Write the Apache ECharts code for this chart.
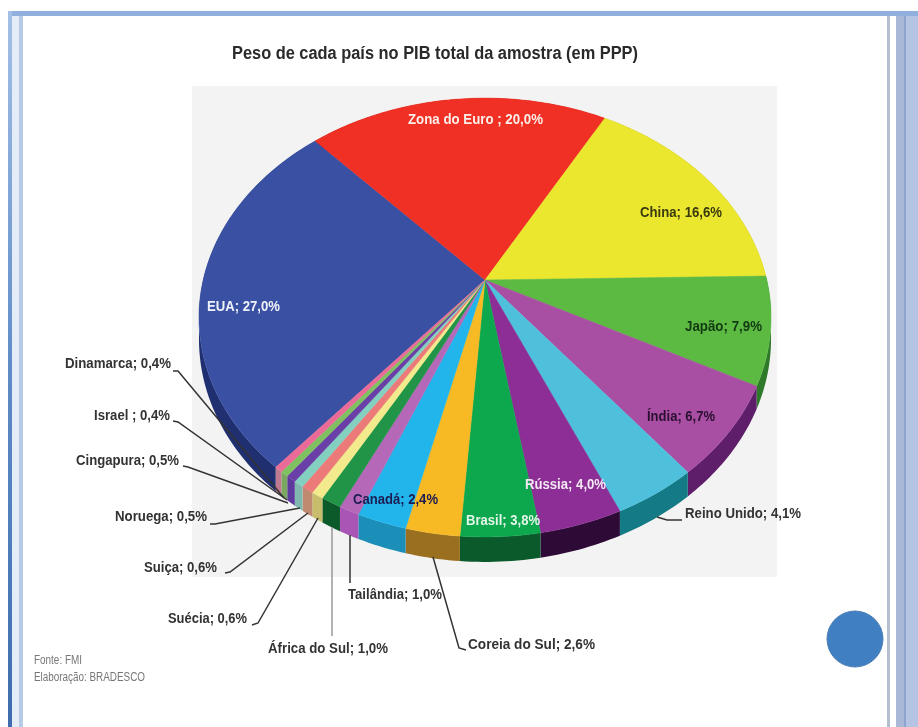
<!DOCTYPE html>
<html>
<head>
<meta charset="utf-8">
<style>html,body{margin:0;padding:0;background:#fff}#chart{width:918px;height:727px}</style>
<script src="https://cdn.jsdelivr.net/npm/echarts@6/dist/echarts.min.js"></script>
</head>
<body>
<div id="chart"></div>
<script>
// Share of each country in the sample's total GDP (PPP), clockwise from the USA slice.
const categories = ['EUA', 'Zona do Euro ', 'China', 'Japão', 'Índia', 'Reino Unido', 'Rússia', 'Brasil',
  'Coreia do Sul', 'Canadá', 'Tailândia', 'África do Sul', 'Suécia', 'Suiça', 'Noruega', 'Cingapura', 'Israel ', 'Dinamarca'];
const shares = [27.0, 20.0, 16.6, 7.9, 6.7, 4.1, 4.0, 3.8, 2.6, 2.4, 1.0, 1.0, 0.6, 0.6, 0.5, 0.5, 0.4, 0.4];

const topColors = ['#3a51a3', '#f03024', '#ebe62e', '#5cba42', '#a84ea3', '#4fc0dc', '#8c2e95', '#0da84e',
  '#f7b924', '#21b5ec', '#b568b8', '#219447', '#f2ea8c', '#ec7a78', '#84d0c0', '#6a3fa8', '#7fc060', '#ea6a98'];
const sideColors = ['#1f2f70', '#a0201a', '#a09c20', '#2f7a2a', '#5e1e6a', '#147a85', '#2e0b36', '#0a5a2c',
  '#9a7020', '#1c8fb8', '#a855b5', '#0c5a2a', '#c8bd6c', '#bf8a70', '#80b8b0', '#5e3a9e', '#7aa860', '#c07a90'];

// Label boxes: left edge, drawn width, vertical centre, colour.
const labelBoxes = [
  [207, 73, 307, '#f0f2fa'], [408, 135, 120, '#fbeee8'], [640, 82, 213, '#3a3a10'], [685, 77, 327, '#123a12'],
  [647, 68, 417, '#2a1030'], [685, 116, 514, '#333'], [525, 81, 485, '#f4e8f4'], [466, 74, 521, '#e4f6ea'],
  [468, 127, 645, '#333'], [353, 85, 500, '#1c1c50'], [348, 94, 595, '#333'], [268, 120, 649, '#333'],
  [168, 79, 619, '#333'], [144, 73, 568, '#333'], [115, 92, 517, '#333'], [76, 103, 461, '#333'],
  [94, 76, 416, '#333'], [65, 106, 364, '#333']
];

// Leader lines from the outer labels to their slices, keyed by category.
const leaders = {
  'Reino Unido': [[657, 517], [667, 520], [682, 520]],
  'Coreia do Sul': [[433, 557], [459, 648], [466, 650]],
  'Tailândia': [[350, 535], [350, 583]],
  'África do Sul': [[332, 527], [332, 636]],
  'Suécia': [[318, 518], [258, 623], [252, 625]],
  'Suiça': [[308, 513], [230, 572], [225, 573]],
  'Noruega': [[300, 508], [215, 524], [210, 524]],
  'Cingapura': [[288, 503], [188, 467], [183, 466]],
  'Israel ': [[287, 500], [178, 422], [173, 421]],
  'Dinamarca': [[284, 498], [178, 371], [173, 371]]
};

// Perspective projection of the pie's disc: apex, radii and foreshortening.
const apexX = 485, apexY = 280, radiusX = 281.8, radiusY = 213, tilt = 0.171;
const startAngle = -139.8;
const total = shares.reduce((a, b) => a + b, 0);

function rimPoint(deg, extraDepth) {
  const a = deg * Math.PI / 180;
  const w = 1 + tilt * Math.cos(a);
  const depth = extraDepth ? 21 - 4 * Math.cos(a) : 0;
  return [apexX + radiusX * Math.sin(a) / w, apexY - radiusY * Math.cos(a) / w + depth];
}

function sliceSpan(index) {
  const before = shares.slice(0, index).reduce((a, b) => a + b, 0);
  return [startAngle + before / total * 360, startAngle + (before + shares[index]) / total * 360];
}

function rimArc(index, extraDepth) {
  const [from, to] = sliceSpan(index);
  const pts = [];
  const steps = Math.max(4, Math.ceil(to - from));
  for (let i = 0; i <= steps; i++) pts.push(rimPoint(from + (to - from) * i / steps, extraDepth));
  return pts;
}

const measurer = document.createElement('canvas').getContext('2d');
function fittedScale(text, font, width) {
  measurer.font = font;
  return width / measurer.measureText(text).width;
}

const labelFont = 'bold 14px "Liberation Sans"';
const titleText = 'Peso de cada país no PIB total da amostra (em PPP)';
const titleFont = 'bold 18px "Liberation Sans"';
const sourceFont = '12px "Liberation Sans"';

function formatLabel(i) {
  return categories[i] + '; ' + shares[i].toFixed(1).replace('.', ',') + '%';
}

const chart = echarts.init(document.getElementById('chart'), null, { renderer: 'canvas' });

function plate(x, y, width, height, fill) {
  return { type: 'rect', z: -10, silent: true, shape: { x, y, width, height }, style: { fill } };
}

function sourceLine(text, y, width) {
  return { type: 'text', z: -9, silent: true, x: 34, y, scaleX: fittedScale(text, sourceFont, width),
    style: { text, font: sourceFont, fill: '#777', textVerticalAlign: 'middle' } };
}

chart.setOption({
  animation: false,
  backgroundColor: '#fff',
  graphic: [
    plate(8, 11, 910, 5, '#8fb0dc'),
    plate(8, 11, 4, 716, {
      type: 'linear', x: 0, y: 0, x2: 0, y2: 1,
      colorStops: [{ offset: 0, color: '#a4c0e6' }, { offset: 0.5, color: '#5f8cc8' }, { offset: 1, color: '#3f6cae' }]
    }),
    plate(12, 16, 7, 711, '#e4ecf7'),
    plate(19, 16, 4, 711, '#b8cbe6'),
    plate(887, 16, 3, 711, '#b5bdd0'),
    plate(896, 16, 22, 711, '#b4c4e2'),
    plate(896, 16, 8, 711, '#aab8d8'),
    plate(904, 16, 2, 711, '#8ea4cc'),
    plate(192, 86, 585, 491, '#f3f3f3'),
    { type: 'circle', z: -9, silent: true, shape: { cx: 855, cy: 639, r: 28 },
      style: { fill: '#3f7fc2', stroke: '#4d7fb4', lineWidth: 1 } },
    sourceLine('Fonte: FMI', 661, 48),
    sourceLine('Elaboração: BRADESCO', 678, 111),
    { type: 'text', z: -9, silent: true, x: 232, y: 54, scaleX: fittedScale(titleText, titleFont, 406),
      style: { text: titleText, font: titleFont, fill: '#2a2a2a', textVerticalAlign: 'middle' } }
  ],
  series: [
    {
      // Rim of the disc, under the top face
      type: 'custom', name: 'rim', coordinateSystem: 'none', z: 2, data: shares, silent: true,
      renderItem(params) {
        const i = params.dataIndex;
        const points = rimArc(i, false).concat(rimArc(i, true).reverse());
        return { type: 'polygon', shape: { points }, style: { fill: sideColors[i] } };
      }
    },
    {
      // Top face of each slice
      type: 'custom', name: 'faces', coordinateSystem: 'none', z: 3, data: shares, silent: true,
      renderItem(params) {
        const i = params.dataIndex;
        const points = [[apexX, apexY]].concat(rimArc(i, false));
        return { type: 'polygon', shape: { points }, style: { fill: topColors[i], stroke: topColors[i], lineWidth: 0.5 } };
      }
    },
    {
      // Country labels and their leader lines
      type: 'custom', name: 'labels', coordinateSystem: 'none', z: 4, data: shares, silent: true,
      renderItem(params) {
        const i = params.dataIndex;
        const [left, width, midY, fill] = labelBoxes[i];
        const text = formatLabel(i);
        const children = [{
          type: 'text', x: left, y: midY, scaleX: fittedScale(text, labelFont, width),
          style: { text, font: labelFont, fill, textVerticalAlign: 'middle' }
        }];
        const path = leaders[categories[i]];
        if (path) {
          children.push({
            type: 'polyline', shape: { points: path },
            style: { fill: 'none', lineWidth: 1.5, stroke: categories[i] === 'África do Sul' ? '#999' : '#333' }
          });
        }
        return { type: 'group', children };
      }
    }
  ]
});
</script>
</body>
</html>
